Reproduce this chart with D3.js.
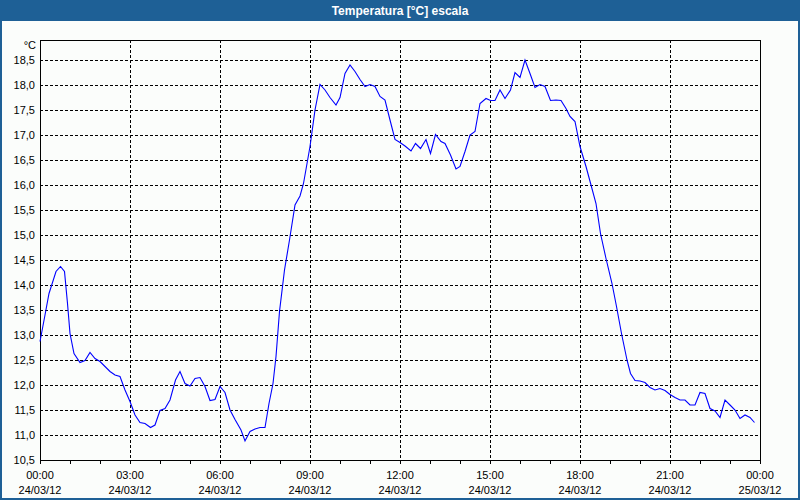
<!DOCTYPE html>
<html><head><meta charset="utf-8">
<script src="https://cdn.jsdelivr.net/npm/d3@7"></script>
<style>
html,body{margin:0;padding:0;background:#fff;}
svg{display:block;}
text{font-family:"Liberation Sans",Arial,sans-serif;}
</style></head>
<body>
<svg id="chart" width="800" height="500"></svg>
<script>
const title = "Temperatura [°C] escala";
const unitLabel = "°C";
// minutes since 24/03/12 00:00
const minutes = [0,10,18,32,41,49,55,60,68,80,90,100,110,120,140,150,160,170,180,190,200,210,221,230,240,250,260,271,280,290,300,310,320,330,340,350,360,370,380,390,402,410,420,430,440,450,458,466,472,479,489,499,510,520,527,533,540,550,560,570,580,592,600,610,620,630,640,650,660,670,680,690,700,710,720,730,742,751,761,772,781,791,802,810,821,832,840,850,860,870,880,892,901,910,920,930,941,950,960,970,980,990,1000,1010,1021,1032,1042,1052,1060,1070,1080,1092,1102,1112,1121,1132,1144,1153,1163,1174,1181,1190,1200,1210,1220,1230,1240,1250,1260,1270,1280,1290,1300,1310,1320,1330,1340,1350,1360,1370,1380,1390,1400,1410,1420,1429];
const temps = [12.87,13.4,13.83,14.27,14.37,14.27,13.63,13.03,12.63,12.45,12.49,12.65,12.53,12.47,12.27,12.2,12.17,11.9,11.67,11.4,11.25,11.23,11.15,11.2,11.49,11.53,11.7,12.1,12.27,12.03,11.98,12.13,12.15,11.97,11.69,11.71,11.97,11.85,11.5,11.31,11.1,10.88,11.07,11.12,11.15,11.15,11.63,12.03,12.57,13.47,14.3,14.9,15.6,15.78,16.03,16.37,16.77,17.5,18.01,17.9,17.75,17.6,17.75,18.23,18.4,18.27,18.11,17.97,18.01,17.97,17.77,17.7,17.3,16.91,16.85,16.78,16.68,16.83,16.73,16.91,16.63,17.01,16.87,16.83,16.6,16.32,16.37,16.67,17.0,17.07,17.63,17.73,17.69,17.69,17.9,17.73,17.9,18.25,18.15,18.5,18.23,17.95,18.01,17.97,17.69,17.7,17.69,17.53,17.37,17.27,16.77,16.37,16.0,15.63,15.03,14.53,14.03,13.57,13.03,12.5,12.23,12.09,12.08,12.05,11.95,11.9,11.93,11.89,11.81,11.75,11.7,11.7,11.6,11.6,11.85,11.83,11.53,11.48,11.35,11.7,11.6,11.5,11.33,11.4,11.35,11.25];
const yTicks = [10.5,11.0,11.5,12.0,12.5,13.0,13.5,14.0,14.5,15.0,15.5,16.0,16.5,17.0,17.5,18.0,18.5];
const xMajor = [0,180,360,540,720,900,1080,1260,1440];
const xTimeLabels = ["00:00","03:00","06:00","09:00","12:00","15:00","18:00","21:00","00:00"];
const xDateLabels = ["24/03/12","24/03/12","24/03/12","24/03/12","24/03/12","24/03/12","24/03/12","24/03/12","25/03/12"];
const xMinor = d3.range(0,1441,60);

const svg = d3.select("#chart");
const W=800,H=500;
const blue="#1e6096";
const L=40,R=760,T=40,B=460;

svg.append("rect").attr("x",0).attr("y",0).attr("width",W).attr("height",H).attr("fill",blue);
svg.append("rect").attr("x",2).attr("y",21).attr("width",W-4).attr("height",H-23).attr("fill","#fbfdfb");
svg.append("text").attr("x",W/2).attr("y",15).attr("text-anchor","middle")
  .attr("fill","#fff").attr("font-weight","bold").attr("font-size","12px").text(title);

const x = d3.scaleLinear().domain([0,1440]).range([L,R]);
const y = d3.scaleLinear().domain([10.5,18.9]).range([B,T]);

// grid
const g = svg.append("g").attr("shape-rendering","crispEdges");
g.selectAll(".hg").data(yTicks.filter(v=>v>10.5)).enter().append("line")
  .attr("x1",L).attr("x2",R).attr("y1",d=>Math.round(y(d))+0.5).attr("y2",d=>Math.round(y(d))+0.5)
  .attr("stroke","#000").attr("stroke-dasharray","3,2");
g.selectAll(".vg").data(xMajor.filter(v=>v>0&&v<1440)).enter().append("line")
  .attr("y1",T).attr("y2",B).attr("x1",d=>Math.round(x(d))+0.5).attr("x2",d=>Math.round(x(d))+0.5)
  .attr("stroke","#000").attr("stroke-dasharray","3,2");

// axes via d3
const yAxis = d3.axisLeft(y).tickValues(yTicks).tickSize(0).tickPadding(5)
  .tickFormat(d=>d3.format(".1f")(d).replace(".",","));
const ya = svg.append("g").attr("transform",`translate(${L},0)`).call(yAxis);
ya.select(".domain").remove();
ya.selectAll("text").attr("font-size","11px").attr("fill","#000").attr("font-family","Liberation Sans, Arial, sans-serif");

const xAxis = d3.axisBottom(x).tickValues(xMinor).tickSize(4).tickFormat("");
const xa = svg.append("g").attr("transform",`translate(0,${B})`).attr("shape-rendering","crispEdges").call(xAxis);
xa.select(".domain").remove();
xa.selectAll("line").attr("stroke","#000");

const lbl = svg.append("g");
xMajor.forEach((m,i)=>{
  lbl.append("text").attr("x",x(m)).attr("y",479).attr("text-anchor","middle")
    .attr("font-size","11px").attr("fill","#000").text(xTimeLabels[i]);
  lbl.append("text").attr("x",x(m)).attr("y",494).attr("text-anchor","middle")
    .attr("font-size","11px").attr("fill","#000").text(xDateLabels[i]);
});
svg.append("text").attr("x",L-4).attr("y",49).attr("text-anchor","end")
  .attr("font-size","11px").attr("fill","#000").text(unitLabel);

// frame
svg.append("rect").attr("x",L+0.5).attr("y",T+0.5).attr("width",R-L).attr("height",B-T)
  .attr("fill","none").attr("stroke","#000").attr("shape-rendering","crispEdges");

// line
const data = minutes.map((m,i)=>({m, v:temps[i]}));
svg.append("path").datum(data)
  .attr("d", d3.line().x(d=>x(d.m)).y(d=>y(d.v)))
  .attr("fill","none").attr("stroke","#0000ff").attr("stroke-width",1.1);
</script>
</body></html>
